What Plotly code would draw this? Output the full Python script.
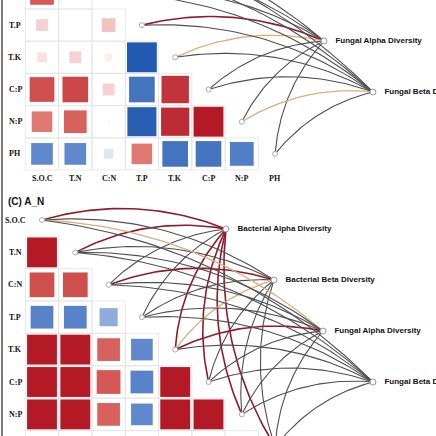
import numpy as np
import plotly.graph_objects as go

# variable names and correlation values (lower triangle, row i > col j)
vars_ = ["S.O.C", "T.N", "C:N", "T.P", "T.K", "C:P", "N:P", "PH"]

top_corr = [
    [],
    [0.3],
    [0.6, 0.2],
    [0.15, 0.0, 0.2],
    [0.1, 0.15, 0.06, -0.95],
    [0.65, 0.7, 0.15, -0.7, 0.8],
    [0.45, 0.55, 0.02, -0.9, 0.85, 0.95],
    [-0.5, -0.5, -0.1, 0.45, -0.7, -0.7, -0.6],
]
bot_corr = [
    [],
    [0.95],
    [0.65, 0.65],
    [-0.55, -0.55, -0.35],
    [0.95, 0.95, 0.55, -0.5],
    [0.95, 0.95, 0.6, -0.55, 0.95],
    [0.95, 0.95, 0.55, -0.5, 0.95, 0.95],
    [0.4, 0.3, -0.5, 0.3, 0.4, 0.4, 0.3],
]

top_targets = ["Fungal Alpha Diversity", "Fungal Beta Diversity"]
top_links = [  # link colour class per variable for each target
    ["g", "g", "g", "r", "t", "g", "g", "g"],
    ["g", "g", "g", "g", "g", "g", "t", "g"],
]
bot_targets = ["Bacterial Alpha Diversity", "Bacterial Beta Diversity",
               "Fungal Alpha Diversity", "Fungal Beta Diversity"]
bot_links = [
    ["r", "r", "g", "g", "r", "r", "r", "r"],
    ["g", "g", "r", "g", "t", "g", "g", "g"],
    ["t", "g", "g", "g", "r", "g", "g", "g"],
    ["g", "g", "g", "g", "g", "g", "g", "g"],
]

LINK_COL = {"g": "#505050", "r": "#8e1c2c", "t": "#d8b07a"}
LINK_W = {"g": 1.1, "r": 1.6, "t": 1.3}
SCALE = [[0, "#1a55ad"], [0.25, "#6088cc"], [0.5, "#ffffff"],
         [0.75, "#dc6a64"], [1, "#b0101f"]]

fig = go.Figure()


def panel(corr, x0, y0, cx, cy, targets, tpos, links, col_labels_y=None):
    xs = [x0 + cx * j for j in range(8)]
    ys = [y0 + cy * i for i in range(8)]
    # cell grid
    for i in range(8):
        for j in range(i):
            fig.add_shape(type="rect", x0=xs[j] - cx / 2, x1=xs[j] + cx / 2,
                          y0=ys[i] - cy / 2, y1=ys[i] + cy / 2,
                          line=dict(color="#e3e3e3", width=0.8), layer="below")
    px, py, sz, cv = [], [], [], []
    for i in range(8):
        for j, r in enumerate(corr[i]):
            px.append(xs[j]); py.append(ys[i]); cv.append(r)
            sz.append(max(cx * 0.92 * abs(r) ** 0.5, 1))
    fig.add_trace(go.Scatter(x=px, y=py, mode="markers", hoverinfo="skip",
                             marker=dict(symbol="square", size=sz, color=cv, opacity=1,
                                         colorscale=SCALE, cmin=-1, cmax=1,
                                         line=dict(width=0))))
    # links
    nodes = [(xs[i], ys[i]) for i in range(8)]
    for k, (tx, ty) in enumerate(tpos):
        for i, (sx, sy) in enumerate(nodes):
            c = links[k][i]
            dx, dy = tx - sx, ty - sy
            L = np.hypot(dx, dy)
            nx, ny = dy / L, -dx / L
            mx, my = (sx + tx) / 2 + 0.17 * L * nx, (sy + ty) / 2 + 0.17 * L * ny
            t = np.linspace(0, 1, 40)
            bx = (1 - t) ** 2 * sx + 2 * (1 - t) * t * mx + t ** 2 * tx
            by = (1 - t) ** 2 * sy + 2 * (1 - t) * t * my + t ** 2 * ty
            fig.add_trace(go.Scatter(x=bx, y=by, mode="lines", hoverinfo="skip",
                                     line=dict(color=LINK_COL[c], width=LINK_W[c])))
    fig.add_trace(go.Scatter(x=[n[0] for n in nodes], y=[n[1] for n in nodes],
                             mode="markers", hoverinfo="skip",
                             marker=dict(size=5, color="white",
                                         line=dict(color="#aaaaaa", width=1))))
    fig.add_trace(go.Scatter(x=[p[0] for p in tpos], y=[p[1] for p in tpos],
                             mode="markers+text",
                             text=["&nbsp;&nbsp;&nbsp;<b>%s</b>" % s for s in targets],
                             textposition="middle right", hoverinfo="skip",
                             textfont=dict(family="Liberation Sans", size=8, color="#111"),
                             marker=dict(size=6, color="white",
                                         line=dict(color="#999999", width=1))))
    for i in range(8):
        fig.add_annotation(x=15, y=ys[i], text="<b>%s</b>" % vars_[i], showarrow=False,
                           font=dict(family="Liberation Serif", size=8, color="#111"))
    if col_labels_y is not None:
        for j in range(8):
            fig.add_annotation(x=xs[j], y=col_labels_y, text="<b>%s</b>" % vars_[j],
                               showarrow=False,
                               font=dict(family="Liberation Serif", size=8, color="#111"))


panel(top_corr, 42, -71.5, 33.3, 32.2, top_targets, [(324, 41), (373, 92)], top_links, 178)
panel(bot_corr, 42, 220, 33.3, 32.4, bot_targets,
      [(226, 229), (274, 280), (323, 331), (373, 382)], bot_links)

fig.add_annotation(x=6, y=201, xanchor="left", text="<b>(C) A_N</b>", showarrow=False,
                   font=dict(family="Liberation Sans", size=10, color="#111"))
fig.add_shape(type="line", x0=2, x1=2, y0=0, y1=436, line=dict(color="#222", width=1.2))

fig.update_layout(width=436, height=436, margin=dict(l=0, r=0, t=0, b=0),
                  showlegend=False, plot_bgcolor="white", paper_bgcolor="white",
                  xaxis=dict(range=[0, 436], visible=False),
                  yaxis=dict(range=[436, 0], visible=False))
fig.write_html("out.html", config={"displayModeBar": False},
               post_script="document.body.style.margin='0';")
